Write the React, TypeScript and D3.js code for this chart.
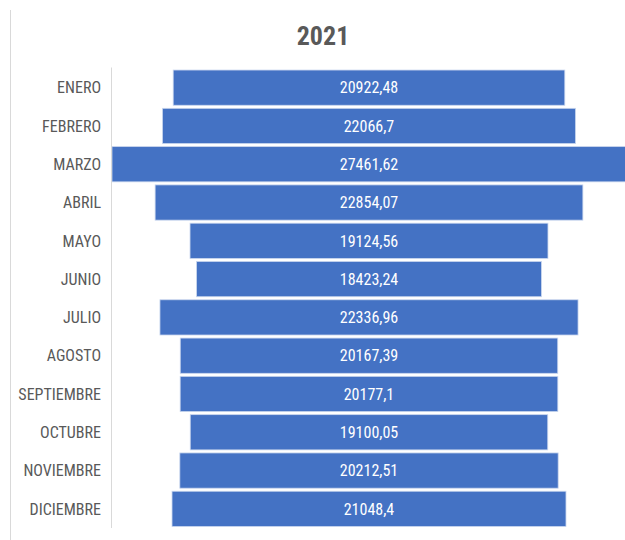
import React from "react";
import * as d3 from "d3";

const months = ["ENERO","FEBRERO","MARZO","ABRIL","MAYO","JUNIO","JULIO","AGOSTO","SEPTIEMBRE","OCTUBRE","NOVIEMBRE","DICIEMBRE"];
const values = [20922.48,22066.7,27461.62,22854.07,19124.56,18423.24,22336.96,20167.39,20177.1,19100.05,20212.51,21048.4];
const valueLabels = ["20922,48","22066,7","27461,62","22854,07","19124,56","18423,24","22336,96","20167,39","20177,1","19100,05","20212,51","21048,4"];
const title = "2021";

const W = 625, H = 540;
const font = "'Liberation Sans Narrow', 'Arial Narrow', 'Roboto Condensed', 'DejaVu Sans Condensed', sans-serif";

export default function App() {
  const plotLeft = 112, plotTop = 68.5, plotBottom = 528;
  const maxW = 514;
  const center = plotLeft + maxW / 2;
  const y = d3.scaleBand<string>().domain(months).range([plotTop, plotBottom]).paddingInner(0.08).paddingOuter(0.04);
  const w = d3.scaleLinear().domain([0, d3.max(values) as number]).range([0, maxW]);
  return (
    <div style={{ position: "absolute", left: 0, top: 0 }}>
      <svg width={W} height={H} style={{ display: "block" }}>
        <rect width={W} height={H} fill="#fff" />
        <line x1={10.5} x2={10.5} y1={10} y2={H} stroke="#d9d9d9" />
        <text x={323} y={45} textAnchor="middle" fontFamily={font} fontWeight="bold" fontSize={26} fill="#595959">{title}</text>
        {months.map((m, i) => {
          const bw = w(values[i]);
          const yy = y(m) as number;
          return (
            <g key={m}>
              <rect x={center - bw / 2} y={yy} width={bw} height={y.bandwidth()} fill="#4472C4" stroke="#c9d6ee" strokeWidth={0.8} />
              <text x={center} y={yy + y.bandwidth() / 2} dy="0.36em" textAnchor="middle" fontFamily={font} fontSize={16} fill="#fff">{valueLabels[i]}</text>
              <text x={101} y={yy + y.bandwidth() / 2} dy="0.36em" textAnchor="end" fontFamily={font} fontSize={16} fill="#595959">{m}</text>
            </g>
          );
        })}
        <line x1={111.5} x2={111.5} y1={plotTop - 1} y2={plotBottom} stroke="#d9d9d9" />
      </svg>
    </div>
  );
}
